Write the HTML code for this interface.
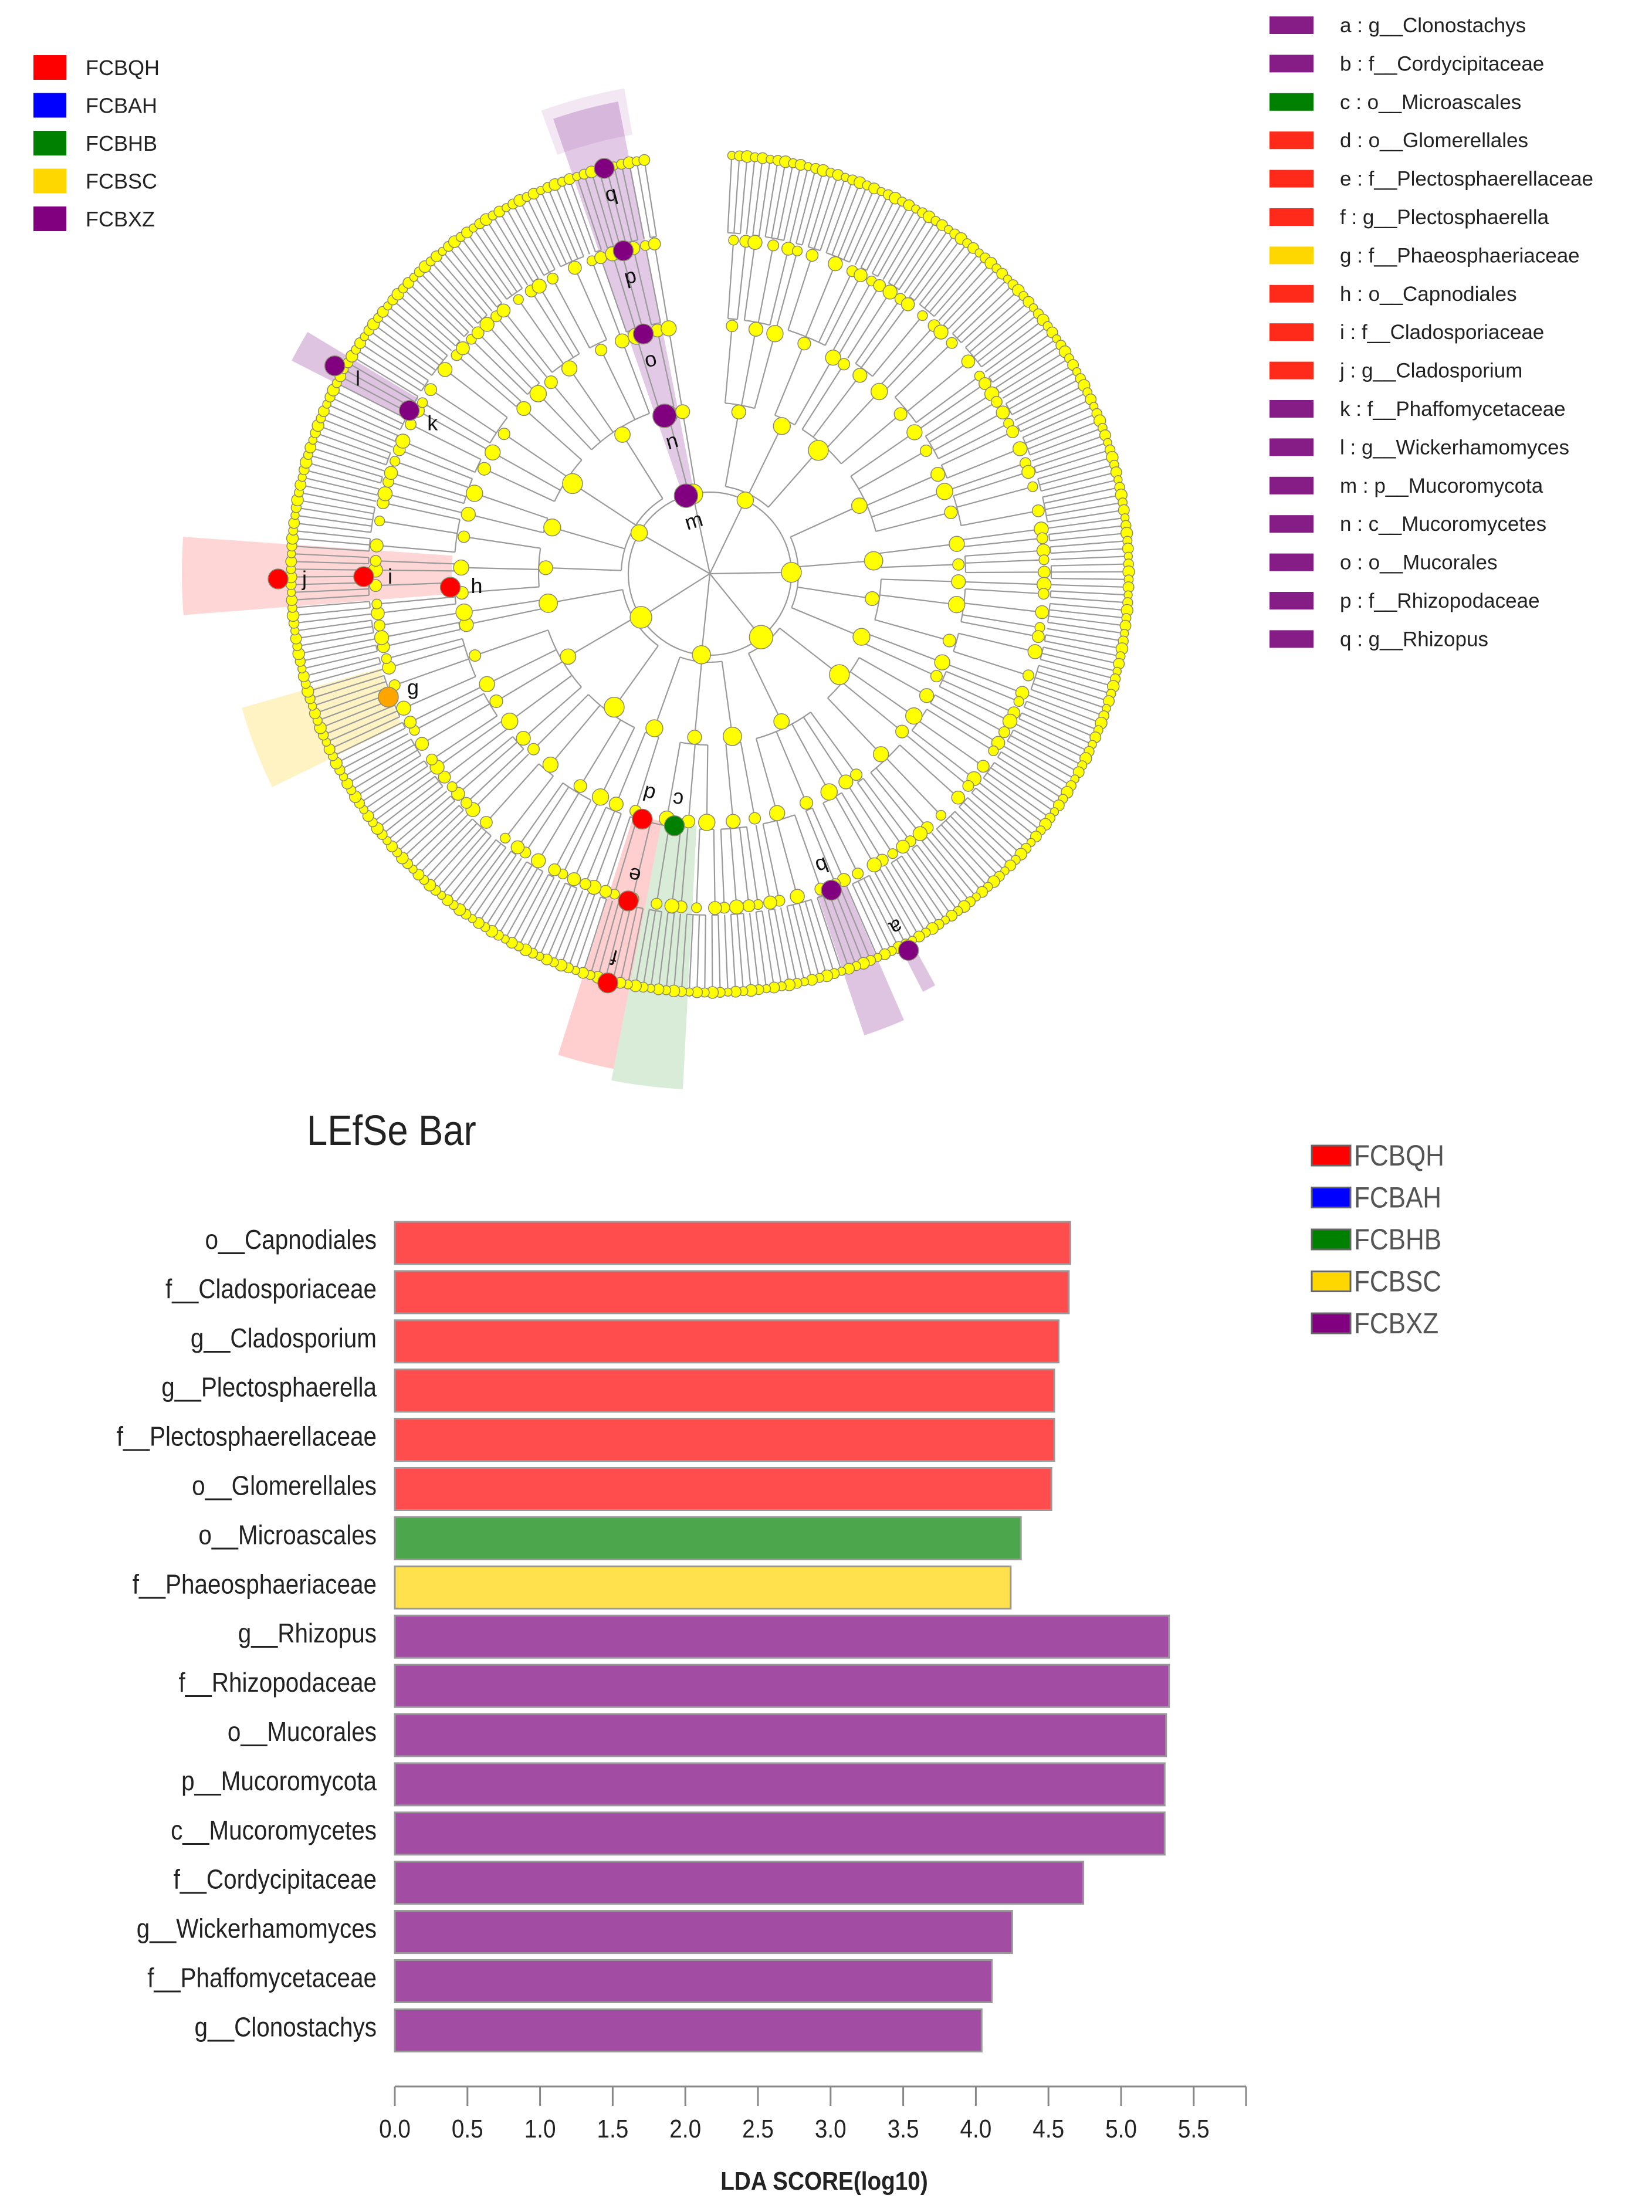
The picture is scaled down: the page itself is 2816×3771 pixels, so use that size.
<!DOCTYPE html>
<html><head><meta charset="utf-8">
<style>
html,body{margin:0;padding:0;background:#fff;}
svg{display:block;}
text{font-family:"Liberation Sans",sans-serif;}
</style></head>
<body>
<svg id="root" width="2816" height="3771" viewBox="0 0 2816 3771" xmlns="http://www.w3.org/2000/svg">
<rect width="2816" height="3771" fill="#fff"/>
<g id="clado"></g>
<g id="cladoLegend"></g>
<g id="taxaLegend"></g>
<g id="bars"></g>
</svg>
<script>
// ---------- bar chart data ----------
const barLabels = ["o__Capnodiales","f__Cladosporiaceae","g__Cladosporium","g__Plectosphaerella","f__Plectosphaerellaceae","o__Glomerellales","o__Microascales","f__Phaeosphaeriaceae","g__Rhizopus","f__Rhizopodaceae","o__Mucorales","p__Mucoromycota","c__Mucoromycetes","f__Cordycipitaceae","g__Wickerhamomyces","f__Phaffomycetaceae","g__Clonostachys"];
const barValues = [4.65,4.64,4.57,4.54,4.54,4.52,4.31,4.24,5.33,5.33,5.31,5.30,5.30,4.74,4.25,4.11,4.04];
const barGroups = ["FCBQH","FCBQH","FCBQH","FCBQH","FCBQH","FCBQH","FCBHB","FCBSC","FCBXZ","FCBXZ","FCBXZ","FCBXZ","FCBXZ","FCBXZ","FCBXZ","FCBXZ","FCBXZ"];
const xTicks = [0,0.5,1,1.5,2,2.5,3,3.5,4,4.5,5,5.5];
const groupNames = ["FCBQH","FCBAH","FCBHB","FCBSC","FCBXZ"];
const taxaLegend = ["a : g__Clonostachys","b : f__Cordycipitaceae","c : o__Microascales","d : o__Glomerellales","e : f__Plectosphaerellaceae","f : g__Plectosphaerella","g : f__Phaeosphaeriaceae","h : o__Capnodiales","i : f__Cladosporiaceae","j : g__Cladosporium","k : f__Phaffomycetaceae","l : g__Wickerhamomyces","m : p__Mucoromycota","n : c__Mucoromycetes","o : o__Mucorales","p : f__Rhizopodaceae","q : g__Rhizopus"];
const taxaGroup = ["FCBXZ","FCBXZ","FCBHB","FCBQH","FCBQH","FCBQH","FCBSC","FCBQH","FCBQH","FCBQH","FCBXZ","FCBXZ","FCBXZ","FCBXZ","FCBXZ","FCBXZ","FCBXZ"];

const NS="http://www.w3.org/2000/svg";
function mk(parent,tag,attrs,txt){const e=document.createElementNS(NS,tag);for(const k in attrs)e.setAttribute(k,attrs[k]);if(txt!==undefined)e.textContent=txt;parent.appendChild(e);return e;}
function narrow(parent,x,y,attrs,txt){attrs.x=0;attrs.y=0;attrs.transform=`translate(${x},${y}) scale(0.88,1)`;return mk(parent,'text',attrs,txt);}

const barFill={FCBQH:"#ff4d4d",FCBAH:"#4d4dff",FCBHB:"#4ca64c",FCBSC:"#ffe14d",FCBXZ:"#a34ca3"};
const legFill={FCBQH:"#ff0000",FCBAH:"#0000ff",FCBHB:"#008000",FCBSC:"#ffd700",FCBXZ:"#800080"};
const taxaFill={FCBQH:"#ff2a1a",FCBHB:"#008000",FCBSC:"#ffd700",FCBXZ:"#861d86"};

// ---------- bar chart ----------
const bars=document.getElementById('bars');
const x0=673, xUnit=247.6;
function xs(v){return x0+v*xUnit;}
const yFirst=2119, yStep=83.9, bh=72;
function ys(i){return yFirst+i*yStep;}
let t=narrow(bars,523,1952,{'font-size':72,fill:'#222'},'LEfSe Bar');


barValues.forEach((v,i)=>{
  const r=mk(bars,'rect',{x:x0,y:ys(i)-bh/2,width:xs(v)-x0,height:bh,fill:barFill[barGroups[i]],stroke:'#999','stroke-width':3});
  
  
  const l=narrow(bars,642,ys(i)+10,{'font-size':46,'text-anchor':'end',fill:'#222'},barLabels[i]);
  
  
});
let ax=mk(bars,'line',{x1:x0,y1:3557,x2:2124,y2:3557,stroke:'#888','stroke-width':3});


xTicks.forEach(v=>{
  const tk=mk(bars,'line',{x1:xs(v),y1:3557,x2:xs(v),y2:3590,stroke:'#888','stroke-width':3});
  
  
  const tl=narrow(bars,xs(v),3644,{'font-size':44,'text-anchor':'middle',fill:'#222'},v.toFixed(1));
  
  
});
let tk2=mk(bars,'line',{x1:2124,y1:3557,x2:2124,y2:3590,stroke:'#888','stroke-width':3});


let xt=narrow(bars,1405,3733,{'font-size':44,'font-weight':'bold','text-anchor':'middle',fill:'#222'},'LDA SCORE(log10)');


groupNames.forEach((g,i)=>{
  const cy=1970+i*71.5;
  const b=mk(bars,'rect',{x:2236,y:cy-17,width:66,height:34,fill:legFill[g],stroke:'#666','stroke-width':3});
  
  
  const tx=narrow(bars,2308,cy+17,{'font-size':50,fill:'#555'},g);
  
  
});

// ---------- cladogram legends ----------
const cl=document.getElementById('cladoLegend');
groupNames.forEach((g,i)=>{
  const cy=115+i*64.5;
  const b=mk(cl,'rect',{x:57,y:cy-21,width:56,height:42,fill:legFill[g]});
  
  
  const tx=mk(cl,'text',{x:146,y:cy+13,'font-size':36,fill:'#222'},g);
  
  
});
const tl2=document.getElementById('taxaLegend');
taxaLegend.forEach((s,i)=>{
  const cy=43+i*65.4;
  const b=mk(tl2,'rect',{x:2164,y:cy-15,width:75,height:30,fill:taxaFill[taxaGroup[i]]});
  
  
  const tx=mk(tl2,'text',{x:2284,y:cy+12,'font-size':35,fill:'#222'},s);
  
  
});

// ---------- cladogram ----------
const C=document.getElementById('clado');
const cx=1210, cy0=978;
const R=[0,139,280,424,570,714];
function pt(r,a){const t=a*Math.PI/180;return [cx+r*Math.cos(t),cy0+r*Math.sin(t)];}
function wedge(r1,r2,a1,a2,fill,name){
  const p1=pt(r1,a1),p2=pt(r2,a1),p3=pt(r2,a2),p4=pt(r1,a2);
  const w=mk(C,'path',{d:`M${p1}L${p2}A${r2},${r2} 0 0 1 ${p3}L${p4}A${r1},${r1} 0 0 0 ${p1}Z`,fill:fill});
  
  
}
wedge(130,820,-109,-101,'rgba(150,60,160,0.28)','clade-shade-mucoromycota');
wedge(760,840,-110,-100,'rgba(150,60,160,0.12)','clade-shade-rhizopus-outer');
wedge(580,800,-153,-149,'rgba(150,60,160,0.3)','clade-shade-wickerhamomyces');
wedge(440,900,175.5,184,'rgba(255,90,90,0.25)','clade-shade-capnodiales');
wedge(585,830,154,164,'rgba(255,215,60,0.3)','clade-shade-phaeosphaeriaceae');
wedge(430,860,101,107.5,'rgba(255,80,80,0.28)','clade-shade-glomerellales');
wedge(430,880,93,101,'rgba(60,160,60,0.2)','clade-shade-microascales');
wedge(575,830,66.5,71.5,'rgba(150,60,160,0.3)','clade-shade-cordycipitaceae');
wedge(725,800,61.3,63,'rgba(150,60,160,0.3)','clade-shade-clonostachys');

const leafCount=330, aStart=-87, aEnd=261;
const grp=[[3,1,2,4,1,2,3,5,1,2,2,1],[2,3,1,4,2,1,3],[3,2,4,5,2],[3,4,2,3]];
let level=[];
for(let i=0;i<leafCount;i++)level.push({a:aStart+(aEnd-aStart)*i/(leafCount-1),r:R[5],ch:[]});
const levels=[level];
for(let L=0;L<4;L++){
  const nxt=[];let i=0,k=0;const sz=grp[L];
  while(i<level.length){const n=sz[k%sz.length];k++;const ch=level.slice(i,i+n);i+=n;
    const a=(ch[0].a+ch[ch.length-1].a)/2;nxt.push({a:a,r:R[4-L],ch:ch});}
  level=nxt;levels.push(level);
}
const lines=mk(C,'g',{stroke:'#9a9a9a','stroke-width':2.2,fill:'none'});


mk(lines,'circle',{cx:cx,cy:cy0,r:R[1]});
levels.forEach((lv,li)=>{
  lv.forEach(n=>{
    if(n.ch.length){
      n.ch.forEach(c=>{const p=pt(n.r+12,c.a),q=pt(c.r,c.a);mk(lines,'line',{x1:p[0],y1:p[1],x2:q[0],y2:q[1]});});
      if(n.ch.length>1){const a1=n.ch[0].a,a2=n.ch[n.ch.length-1].a;const p=pt(n.r+12,a1),q=pt(n.r+12,a2);
        mk(lines,'path',{d:`M${p}A${n.r+12},${n.r+12} 0 ${a2-a1>180?1:0} 1 ${q}`});}
    }
  });
});
levels[4].forEach(n=>{const p=pt(R[1],n.a);mk(lines,'line',{x1:p[0],y1:p[1],x2:cx,y2:cy0});});
const nodes=mk(C,'g',{fill:'#ffff00',stroke:'#8a8a70','stroke-width':1.5});


const sizes=[10,12,14,17,20];
levels.forEach((lv,li)=>{lv.forEach((n,j)=>{const p=pt(n.r,n.a);mk(nodes,'circle',{cx:p[0],cy:p[1],r:sizes[li]*(0.7+0.3*((j*7)%5)/4)});});});
const hl=[["a",62.2,726,"FCBXZ"],["b",69,578,"FCBXZ"],["c",98,434,"FCBHB"],["d",105.4,434,"FCBQH"],["e",104,575,"FCBQH"],["f",104,719,"FCBQH"],["g",159,587,"FCBSC"],["h",177,443,"FCBQH"],["i",179.5,590,"FCBQH"],["j",179.3,736,"FCBQH"],["k",-151.5,583,"FCBXZ"],["l",-151,731,"FCBXZ"],["m",-107,139,"FCBXZ"],["n",-106,280,"FCBXZ"],["o",-105.5,424,"FCBXZ"],["p",-105,570,"FCBXZ"],["q",-104.6,714,"FCBXZ"]];
const hc={FCBXZ:"#800080",FCBQH:"#ff0000",FCBHB:"#008000",FCBSC:"#ffa500"};
hl.forEach(h=>{
  const p=pt(h[2],h[1]);
  const c=mk(C,'circle',{cx:p[0],cy:p[1],r:h[2]<300?20:17,fill:hc[h[3]],stroke:'#8a8a70','stroke-width':1.5});
  
  
  const lp=pt(h[2]-45,h[1]);
  const rot=h[1]+90;
  const tx=mk(C,'text',{x:lp[0],y:lp[1]+12,'font-size':36,'text-anchor':'middle',fill:'#111',transform:`rotate(${(h[1]>150||h[1]<-140)?0:rot} ${lp[0]} ${lp[1]})`},h[0]);
  
  
});
</script>
</body></html>
